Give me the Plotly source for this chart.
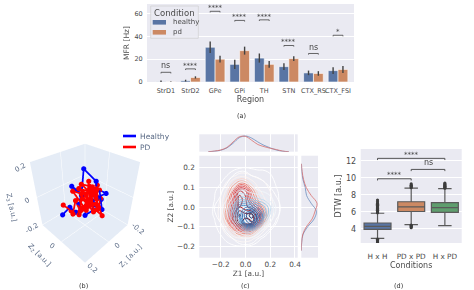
import plotly.graph_objects as go

W, H = 474, 290
# ---------- panel (a)
regions = ["StrD1", "StrD2", "GPe", "GPi", "TH", "STN", "CTX_RS", "CTX_FSI"]
conditions = ["healthy", "pd"]
mfr_healthy = [0.4, 1.2, 30.5, 15.5, 21, 13.5, 8, 10]
mfr_pd = [0.1, 4, 20, 27.5, 15.5, 20.5, 7.5, 11]
err_healthy = [1, 0.8, 5, 4, 4, 3, 2, 3]
err_pd = [0.4, 1, 3, 3.5, 3, 2, 2, 3]
sig_height = [8.5, 11.5, 62, 54, 54.5, 32, 25, 41]
sig_label = ["ns", "****", "****", "****", "****", "****", "ns", "*"]
# ---------- panel (b)
blue_x = [.10, .07, .05, .06, .04, .01, .03, 0, -.02, -.07, -.05, -.12, -.08, -.04, -.02, .01, .03, -.01, -.06, -.09]
blue_y = [-.10, -.06, -.03, .01, -.01, -.02, -.08, -.03, -.03, .02, .05, .06, .04, .10, .04, .02, .03, .06, .02, .05]
blue_z = [-.12, -.06, -.09, -.08, -.03, .02, .05, 0, .15, .08, 0, 0, .03, -.05, -.04, -.06, -.09, -.06, .02, -.03]
red_x = [.11, .07, .09, .04, .06, .01, .05, .02, -.02, .03, -.03, .01, -.05, 0, -.04, -.07, -.02, -.06, -.01, -.04,
         .02, -.03, .04, 0, -.02, .03, .06, .01, -.05, -.02, .02, -.03, -.07, -.02, .01, -.04, -.08, -.03, 0, .03]
red_y = [-.07, -.05, -.01, -.04, .02, -.02, -.05, .03, -.01, -.02, .02, .04, .01, -.03, .05, .03, .08, .04, .02, -.01,
         .03, .06, .02, .07, .03, .05, .01, -.01, .02, .12, .06, .01, .06, .09, .04, .04, .04, .01, .05, .01]
red_z = [-.03, -.08, -.07, -.02, -.05, .02, .04, -.06, 0, .06, .03, -.03, .05, .07, 0, .06, -.05, -.02, .04, .08,
         -.04, -.03, .02, -.06, .05, -.02, -.08, .03, .02, -.07, -.01, .06, -.01, -.03, .01, .05, .03, -.02, .04, -.05]
scene_tick_text = ["0.2", "0", "-0.2", "0", "-0.2", "0", "0.2"]
scene_axis_titles = ["Z<sub>1</sub> [a.u.]", "Z<sub>2</sub> [a.u.]", "Z<sub>3</sub> [a.u.]"]
# ---------- panel (c)
kde_x = [-.30, -.25, -.20, -.15, -.10, -.05, 0, .05, .10, .15, .20, .25, .30]
kde_y = [.20, .16, .12, .08, .04, 0, -.04, -.08, -.12, -.16, -.20]
kde_pd = [
    [0, 0, 0, 0, 0, .2, .3, .2, .1, .1, 0, 0, 0],
    [0, 0, 0, .3, .8, 1.3, 1.3, 1, .8, .7, .4, 0, 0],
    [0, 0, .3, 1.2, 2.6, 3.8, 3.6, 2.2, 1.4, 1.1, .7, .2, 0],
    [0, .2, .8, 2, 4.5, 7.5, 7, 4, 2, 1.4, 1, .4, 0],
    [0, .3, 1.1, 2.8, 5.5, 8.5, 7.5, 5, 3, 1.8, 1.2, .5, 0],
    [0, .4, 1.3, 3.2, 6, 8, 7.5, 7, 5.5, 2.8, 1.4, .6, 0],
    [0, .4, 1.4, 3.8, 7, 9.5, 9, 9, 7.5, 4, 1.5, .5, 0],
    [0, .2, 1, 3, 6.5, 9, 10, 9.5, 7, 3, 1, .3, 0],
    [0, 0, .5, 1.5, 3.2, 4.5, 5, 4.5, 2.5, 1, .3, 0, 0],
    [0, 0, .1, .5, 1, 1.4, 1.5, 1.2, .5, .1, 0, 0, 0],
    [0, 0, 0, 0, .1, .2, .2, .1, 0, 0, 0, 0, 0],
]
kde_h = [
    [0, 0, 0, 0, 0, .1, .1, .1, 0, 0, 0, 0, 0],
    [0, 0, 0, 0, .3, .5, .5, .3, .2, 0, 0, 0, 0],
    [0, 0, 0, .3, .7, 1.1, 1.1, .8, .6, .4, .1, 0, 0],
    [0, 0, .2, .6, 1.2, 1.8, 1.8, 1.4, 1.1, .9, .5, .1, 0],
    [0, .1, .4, 1, 2, 3.5, 3.5, 3, 2.6, 2.2, 1.4, .4, 0],
    [0, .3, .7, 1.6, 3.5, 6, 6.5, 6, 5, 4, 2.6, .8, 0],
    [0, .2, .6, 1.6, 3.5, 6, 8.5, 10, 7.5, 4.5, 2.2, .5, 0],
    [0, 0, .3, 1, 2.2, 4, 7.5, 8.5, 5.5, 2.5, .9, .1, 0],
    [0, 0, 0, .4, 1, 2, 3, 2.8, 1.5, .6, .1, 0, 0],
    [0, 0, 0, 0, .3, .6, .8, .6, .3, 0, 0, 0, 0],
    [0, 0, 0, 0, 0, .1, .1, .1, 0, 0, 0, 0, 0],
]
top_x = [-.30, -.25, -.20, -.15, -.10, -.05, 0, .05, .10, .15, .20, .25, .30, .35]
top_h = [0, .1, .35, .9, 2.0, 3.3, 3.7, 3.2, 2.3, 1.5, .9, .4, .1, 0]
top_pd = [0, .15, .4, 1.0, 2.3, 3.5, 3.6, 2.7, 1.7, 1.2, .8, .5, .15, 0]
right_y = [-.22, -.18, -.14, -.10, -.06, -.02, .02, .06, .10, .14, .18, .22]
right_h = [0, .1, .5, 1.9, 3.9, 4.6, 3, 1.6, 1.2, .5, .15, 0]
right_pd = [0, .1, .4, 1.5, 3.3, 4.2, 4.8, 3, 1.5, .7, .25, .05]
# ---------- panel (d)
cond = ["H x H", "PD x PD", "H x PD"]
dtw_q1 = [3.95, 6.05, 5.95]
dtw_med = [4.3, 6.6, 6.5]
dtw_q3 = [4.7, 7.2, 7.1]
dtw_low = [2.9, 4.5, 4.4]
dtw_up = [5.85, 8.8, 8.75]
out_h = [2.4, 2.5, 2.6, 2.7, 2.8, 5.9, 6.0, 6.1, 6.2, 6.3, 6.4, 6.5, 6.6, 6.7, 6.8, 6.9, 7.0, 7.2, 7.4]
out_pd = [4.15, 4.25, 4.35, 4.45, 8.85, 8.95, 9.05, 9.15, 9.3]
out_hpd = [8.8, 8.85, 8.95, 9.0, 9.1, 9.2, 9.3, 9.4]
brk_from = ["H x H", "PD x PD", "H x H"]
brk_to = ["PD x PD", "H x PD", "H x PD"]
brk_y = [9.9, 11.0, 12.3]
brk_lab = ["****", "ns", "****"]

BG = "#eaeaf2"; TXT = "#4a4a4a"; PLY = "#5a6a85"
BLUE = "#5975a4"; ORG = "#cc8963"; GRN = "#5f9e6e"
FONT = "DejaVu Sans"

def px(x0, x1): return [x0 / W, x1 / W]
def py(y0, y1): return [1 - y1 / H, 1 - y0 / H]   # y0 top, y1 bottom in pixels
def X(v): return v / W
def Y(v): return 1 - v / H

def ax(dom, rng, **kw):
    d = dict(domain=dom, range=rng, showline=False, zeroline=False, gridcolor="white", gridwidth=1, tickangle=0,
             ticks="outside", tickcolor="rgba(0,0,0,0)", ticklen=2, tickfont=dict(size=7.3, color=TXT, family=FONT), automargin=False)
    d.update(kw)
    return d

def label(text, x, y, size, color=TXT, xanchor="center", angle=0):
    return dict(x=X(x), y=Y(y), xref="paper", yref="paper", text=text, showarrow=False, xanchor=xanchor, yanchor="middle",
                textangle=angle, font=dict(size=size, color=color, family=FONT))

fig = go.Figure()
# ---- (a)
fig.add_bar(x=regions, y=mfr_healthy, name=conditions[0], marker=dict(color=BLUE, line=dict(color="white", width=.6)),
            error_y=dict(type="data", array=err_healthy, color="#424242", thickness=1.4, width=0),
            offsetgroup="h", xaxis="x", yaxis="y", showlegend=False)
fig.add_bar(x=regions, y=mfr_pd, name=conditions[1], marker=dict(color=ORG, line=dict(color="white", width=.6)),
            error_y=dict(type="data", array=err_pd, color="#424242", thickness=1.4, width=0),
            offsetgroup="p", xaxis="x", yaxis="y", showlegend=False)
shapes, ann = [], []
for i, (h, lab) in enumerate(zip(sig_height, sig_label)):
    for xs, ys in (((i - .2, i + .2), (h, h)), ((i - .2, i - .2), (h, h - 1)), ((i + .2, i + .2), (h, h - 1))):
        shapes.append(dict(type="line", xref="x", yref="y", x0=xs[0], x1=xs[1], y0=ys[0], y1=ys[1],
                           line=dict(color="#444", width=.8)))
    ann.append(dict(x=i, y=h + (0.3 if lab != "ns" else 0.8), xref="x", yref="y", text=lab, showarrow=False, yanchor="bottom" if lab == "ns" else "middle",
                    yshift=-1 if lab == "ns" else 3, font=dict(size=7 if lab != "ns" else 8, color="#444", family=FONT)))

# legend of panel (a)
shapes.append(dict(type="rect", xref="paper", yref="paper", x0=X(150.7), x1=X(198.3), y0=Y(6), y1=Y(38.3),
                   fillcolor="rgba(234,234,242,.85)", line=dict(color="#cfcfcf", width=.7)))
ann.append(label("Condition", 174, 12.5, 8.5))
for name, col, yy in zip(conditions, (BLUE, ORG), (22.3, 32.3)):
    shapes.append(dict(type="rect", xref="paper", yref="paper", x0=X(152.7), x1=X(166), y0=Y(yy - 2.3), y1=Y(yy + 2.3),
                       fillcolor=col, line=dict(width=0)))
    ann.append(label(name, 170.5, yy, 7, xanchor="left"))

# ---- (b)
fig.add_scatter3d(x=blue_x, y=blue_y, z=blue_z, mode="lines+markers", name="Healthy", scene="scene",
                  line=dict(color="blue", width=3.5), marker=dict(color="blue", size=3), showlegend=False)
fig.add_scatter3d(x=red_x, y=red_y, z=red_z, mode="lines+markers", name="PD", scene="scene",
                  line=dict(color="red", width=3.5), marker=dict(color="red", size=3), showlegend=False)
for name, col, yy in zip(("Healthy", "PD"), ("blue", "red"), (136, 147)):
    shapes.append(dict(type="line", xref="paper", yref="paper", x0=X(123), x1=X(136), y0=Y(yy), y1=Y(yy), line=dict(color=col, width=2.6)))
    ann.append(label(name, 138, yy, 7.5, PLY, xanchor="left"))
tick_pos = [(20, 168.3, -30), (26.7, 201, -30), (32.3, 228, -30), (51.7, 245.7, 35), (138, 229, 40), (117, 245.7, -40), (92, 267.7, 40)]
for txt, (x_, y_, a_) in zip(scene_tick_text, tick_pos):
    ann.append(label(txt, x_, y_, 7, PLY, angle=a_))
for txt, (x_, y_, a_) in zip(scene_axis_titles, [(130.7, 255.7, -45), (39.3, 255, 45), (11.7, 207.7, 78)]):
    ann.append(label(txt, x_, y_, 7, PLY, angle=a_))

# ---- (c)
REDS = [[0, "#ffffff"], [.2, "#fdeee8"], [.32, "#f4917a"], [.6, "#d8353a"], [.85, "#a50f15"], [1, "#67000d"]]
BLUES = [[0, "#ffffff"], [.15, "#e6f0f8"], [.28, "#a5cde6"], [.6, "#3d86c4"], [.85, "#1f5fa8"], [1, "#08306b"]]
for z, cs in ((kde_pd, REDS), (kde_h, BLUES)):
    fig.add_contour(x=kde_x, y=kde_y, z=z, colorscale=cs, zmin=0, zmax=10, showscale=False, xaxis="x2", yaxis="y2",
                    contours=dict(coloring="lines", start=.3, end=10, size=.7),
                    line=dict(width=.9, smoothing=1.3), showlegend=False)
fig.add_scatter(x=top_x, y=top_h, mode="lines", line=dict(color="#6c8ebf", width=.8, shape="spline"), xaxis="x3", yaxis="y3", showlegend=False)
fig.add_scatter(x=top_x, y=top_pd, mode="lines", line=dict(color="#d9706f", width=.8, shape="spline"), xaxis="x3", yaxis="y3", showlegend=False)
fig.add_scatter(x=right_h, y=right_y, mode="lines", line=dict(color="#6c8ebf", width=.8, shape="spline"), xaxis="x4", yaxis="y4", showlegend=False)
fig.add_scatter(x=right_pd, y=right_y, mode="lines", line=dict(color="#d9706f", width=.8, shape="spline"), xaxis="x4", yaxis="y4", showlegend=False)

# ---- (d)
for i, (c, col, out) in enumerate(zip(cond, (BLUE, ORG, GRN), (out_h, out_pd, out_hpd))):
    fig.add_box(x=[c], q1=[dtw_q1[i]], median=[dtw_med[i]], q3=[dtw_q3[i]], lowerfence=[dtw_low[i]], upperfence=[dtw_up[i]],
                fillcolor=col, line=dict(color="#5a5a5a", width=1.2), width=.8, whiskerwidth=.5,
                xaxis="x5", yaxis="y5", showlegend=False, boxpoints=False)
    fig.add_scatter(x=[c] * len(out), y=out, mode="markers", marker=dict(color="#3c3c3c", size=3.2),
                    xaxis="x5", yaxis="y5", showlegend=False)
for a, b, y, lab in zip(brk_from, brk_to, brk_y, brk_lab):
    i0, i1 = cond.index(a), cond.index(b)
    for xs, ys in (((i0, i1), (y, y)), ((i0, i0), (y, y - .2)), ((i1, i1), (y, y - .2))):
        shapes.append(dict(type="line", xref="x5", yref="y5", x0=xs[0], x1=xs[1], y0=ys[0], y1=ys[1],
                           line=dict(color="#444", width=.9)))
    ann.append(dict(x=(i0 + i1) / 2, y=y + .2, xref="x5", yref="y5", text=lab, showarrow=False, yanchor="bottom" if lab == "ns" else "middle",
                    yshift=-1 if lab == "ns" else 2, font=dict(size=7 if lab != "ns" else 8, color="#444", family=FONT)))

# captions
for t_, x, y in (("(a)", 241.5, 116), ("(b)", 83, 286), ("(c)", 245, 286), ("(d)", 398, 286)):
    ann.append(label(t_, x, y, 6.5, "#333"))

def t(text, size=8.5, standoff=2):
    return dict(text=text, font=dict(size=size, color=TXT, family=FONT), standoff=standoff)

sax = dict(range=[-.2, .2], tickvals=[-.2, 0, .2], showticklabels=False, title=dict(text=""), backgroundcolor="#e5ecf6", showbackground=True,
           gridcolor="white", zerolinecolor="white", gridwidth=1)

fig.update_layout(
    width=W, height=H, margin=dict(l=0, r=0, t=0, b=0), paper_bgcolor="white", plot_bgcolor=BG,
    font=dict(family=FONT), barmode="group", bargap=.2, bargroupgap=0, showlegend=False,
    xaxis=ax(px(147, 354), [-.77, 7.65], tickfont=dict(size=6.5, color=TXT, family=FONT), showgrid=False, title=t("Region", 8, 1), anchor="y"),
    yaxis=ax(py(4, 82), [0, 68.4], tickvals=[0, 20, 40, 60], tickfont=dict(size=6.5, color=TXT, family=FONT), title=t("MFR [Hz]", 7.5, 3), anchor="x"),
    xaxis2=ax(px(199.3, 297.7), [-.373, .422], tickvals=[-.2, 0, .2, .4], ticktext=["−0.2", "0.0", "0.2", "0.4"], ticklen=0, title=t("Z1 [a.u.]", 7.3, 0), anchor="y2"),
    yaxis2=ax(py(155.7, 257.7), [-.256, .261], tickvals=[-.2, -.1, 0, .1, .2], ticktext=["−0.2", "−0.1", "0.0", "0.1", "0.2"], title=t("Z2 [a.u.]", 7.3, 2), anchor="x2"),
    xaxis3=ax(px(199.3, 297.7), [-.373, .422], tickvals=[-.2, 0, .2, .4], showticklabels=False, ticks="", anchor="y3"),
    yaxis3=ax(py(134.3, 151.7), [0, 4.1], showticklabels=False, showgrid=False, ticks="", anchor="x3"),
    xaxis4=ax(px(301.3, 318), [0, 5.1], showticklabels=False, showgrid=False, ticks="", anchor="y4"),
    yaxis4=ax(py(155.7, 257.7), [-.256, .261], tickvals=[-.2, -.1, 0, .1, .2], showticklabels=False, ticks="", anchor="x4"),
    xaxis5=ax(px(360.7, 461.7), [-.5, 2.5], type="category", categoryorder="array", categoryarray=cond, showgrid=False, ticklen=6,
              title=t("Conditions", 8, 1), anchor="y5"),
    yaxis5=ax(py(149, 243), [2.35, 13.4], tickvals=[4, 6, 8, 10, 12], title=t("DTW [a.u.]", 8, 3), tickfont=dict(size=8, color=TXT, family=FONT), anchor="x5"),
    scene=dict(domain=dict(x=px(0, 170), y=py(125, 270)), xaxis=sax, yaxis=sax, zaxis=sax, camera=dict(eye=dict(x=1.47, y=1.47, z=1.5)),
               aspectmode="manual", aspectratio=dict(x=1, y=1, z=1.12)),
    shapes=shapes, annotations=ann,
)
fig.write_html("out.html", config=dict(displayModeBar=False), post_script="document.body.style.margin='0';document.body.style.overflow='hidden';")
